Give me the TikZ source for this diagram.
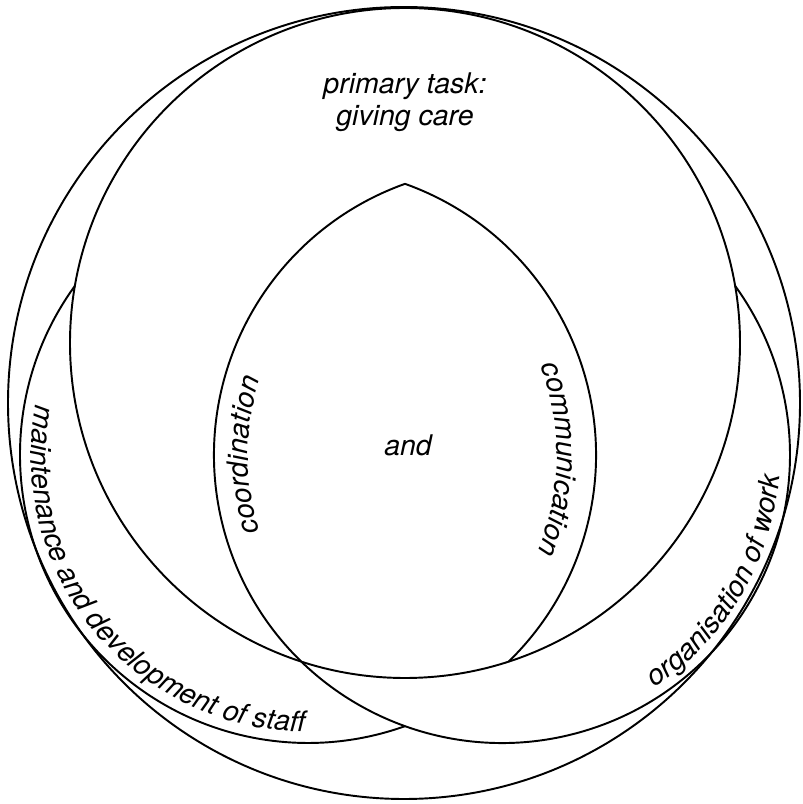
\documentclass[tikz,border=0pt]{standalone}
\usepackage{fontspec}
\setmainfont{TeX Gyre Heros}
\usetikzlibrary{decorations.text}
\begin{document}
\begin{tikzpicture}[x=0.02cm,y=0.02cm, line width=1.1pt,
  lbl/.style={font=\itshape\fontsize{16.2}{18.2}\selectfont, inner sep=0pt},
  curvedtext/.style={decorate, decoration={text along path, text align=center,
     text={|\itshape\fontsize{16.2}{18.2}\selectfont|#1}}}]
\useasboundingbox (0,0) rectangle (802,804);
% outer circle and primary task circle
\draw (404,401) circle[radius=396];
\draw (405,461) circle[radius=335];
% maintenance circle (partly hidden)
\draw ([shift={(308,349)}]70.32:288) arc[start angle=70.32, end angle=-45.83, radius=288];
\draw ([shift={(308,349)}]144.03:288) arc[start angle=144.03, end angle=289.68, radius=288];
% organisation circle (partly hidden)
\draw ([shift={(502,349)}]109.68:288) arc[start angle=109.68, end angle=395.97, radius=288];
% labels
\node[lbl, align=center] (task) at (405,702) {primary task:\\giving care};
\node[lbl, anchor=base] (and) at (408,348) {and};
\path[curvedtext={coordination}] ([shift={(502,349)}]225:254) arc[start angle=225, end angle=135, radius=254];
\path[curvedtext={communication}] ([shift={(308,349)}]44:249) arc[start angle=44, end angle=-46, radius=249];
\path[curvedtext={maintenance and development of staff}] ([shift={(308,349)}]150:277) arc[start angle=150, end angle=289, radius=277];
\path[curvedtext={organisation of work}] ([shift={(502,349)}]-75:278) arc[start angle=-75, end angle=14, radius=278];
\end{tikzpicture}
\end{document}
